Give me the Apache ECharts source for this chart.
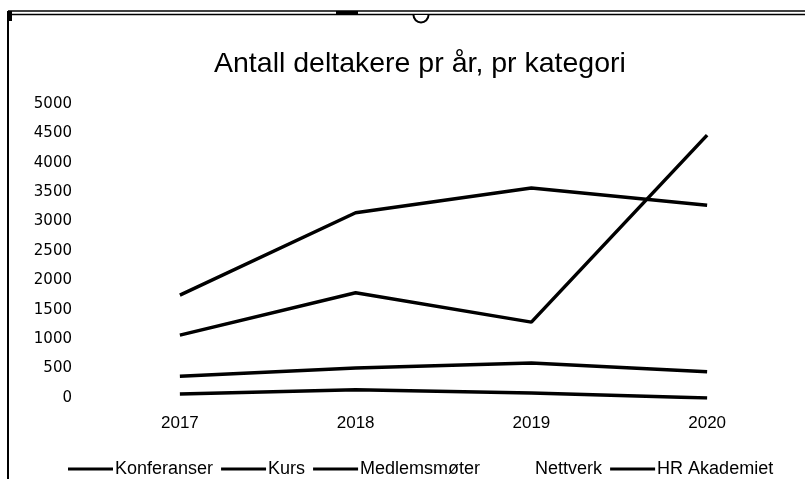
<!DOCTYPE html>
<html>
<head>
<meta charset="utf-8">
<script src="https://cdn.jsdelivr.net/npm/echarts@6/dist/echarts.min.js"></script>
<style>
html,body{margin:0;padding:0;background:#fff;}
#chart{width:805px;height:479px;}
</style>
</head>
<body>
<div id="chart"></div>
<script>
var titleText = 'Antall deltakere pr år, pr kategori';
var years = ['2017', '2018', '2019', '2020'];
var seriesNames = ['Konferanser', 'Kurs', 'Medlemsmøter', 'Nettverk', 'HR Akademiet'];
var konferanser = [1750, 3150, 3570, 3280];
var kurs = [1070, 1790, 1290, 4470];
var medlemsmoter = [370, 510, 595, 445];
var nettverk = [null, null, null, null];
var hrAkademiet = [70, 140, 85, 0];
var yTicks = {min: 0, max: 5000, interval: 500};

var dataSets = [konferanser, kurs, medlemsmoter, nettverk, hrAkademiet];
var colors = ['#000', '#000', '#000', '#fff', '#000'];

var narrow = '"Liberation Sans Narrow", "Arial Narrow", "Liberation Sans", sans-serif';

var chart = echarts.init(document.getElementById('chart'), null, {renderer: 'canvas'});
chart.setOption({
  animation: false,
  backgroundColor: '#fff',
  title: {
    text: titleText,
    left: 209,
    top: 45,
    textStyle: {fontFamily: narrow, fontSize: 28.5, fontWeight: 'normal', color: '#000'}
  },
  legend: {
    top: 455,
    left: 63,
    icon: 'rect',
    itemWidth: 45,
    itemHeight: 3,
    itemGap: 8,
    textStyle: {fontFamily: narrow, fontSize: 18, color: '#000', padding: [0, 0, 0, -3]},
    data: seriesNames
  },
  grid: {left: 92, right: 10, top: 104, bottom: 81, containLabel: false},
  xAxis: {
    type: 'category',
    data: years,
    boundaryGap: true,
    axisLine: {show: false},
    axisTick: {show: false},
    axisLabel: {fontFamily: narrow, fontSize: 17, color: '#000', margin: 17}
  },
  yAxis: {
    type: 'value',
    min: yTicks.min,
    max: yTicks.max,
    interval: yTicks.interval,
    axisLine: {show: false},
    axisTick: {show: false},
    splitLine: {show: false},
    axisLabel: {
      fontFamily: '"DejaVu Sans", sans-serif', fontSize: 15, color: '#000', margin: 20,
      formatter: function (v) { return String(v); }
    }
  },
  series: seriesNames.map(function (n, i) {
    return {
      name: n,
      type: 'line',
      data: dataSets[i],
      symbol: 'none',
      color: colors[i],
      lineStyle: {color: colors[i], width: 3.5}
    };
  }),
  graphic: [
    {type: 'line', shape: {x1: 8, y1: 11, x2: 8, y2: 479}, style: {stroke: '#000', lineWidth: 2}},
    {type: 'line', shape: {x1: 8, y1: 11, x2: 805, y2: 11}, style: {stroke: '#000', lineWidth: 1.5}},
    {type: 'line', shape: {x1: 8, y1: 14.5, x2: 805, y2: 14.5}, style: {stroke: '#000', lineWidth: 1.5}},
    {type: 'rect', shape: {x: 336, y: 11, width: 22, height: 4}, style: {fill: '#000'}},
    {type: 'rect', shape: {x: 8, y: 11, width: 4, height: 10}, style: {fill: '#000'}},
    {type: 'arc', shape: {cx: 421, cy: 15, r: 7.5, startAngle: 0, endAngle: Math.PI}, style: {stroke: '#000', fill: '#fff', lineWidth: 2}, z: 100}
  ]
});
</script>
</body>
</html>
